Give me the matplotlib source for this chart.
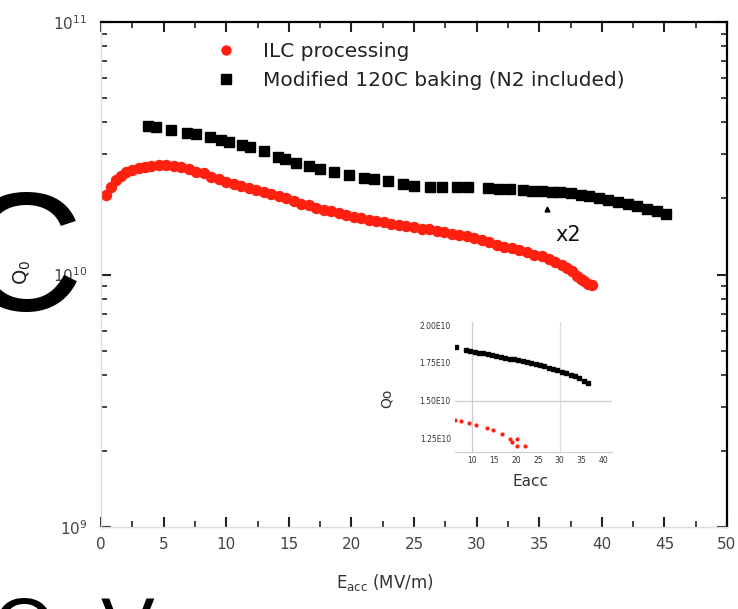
import matplotlib
matplotlib.use("Agg")
import matplotlib.pyplot as plt
from matplotlib.ticker import LogLocator, MultipleLocator, FixedLocator, NullFormatter

plt.rcParams['font.family'] = ['DejaVu Sans']

# ---------------- data ----------------
ilc_e = [0.4, 0.8, 1.2, 1.6, 2.0, 2.5, 3.0, 3.5, 4.0, 4.6, 5.2, 5.8, 6.4, 7.0, 7.6, 8.2, 8.8, 9.4,
         10.0, 10.6, 11.2, 11.8, 12.4, 13.0, 13.6, 14.2, 14.8, 15.4, 16.0, 16.6, 17.2, 17.8, 18.4,
         19.0, 19.6, 20.2, 20.8, 21.4, 22.0, 22.6, 23.2, 23.8, 24.4, 25.0, 25.6, 26.2, 26.8, 27.4,
         28.0, 28.6, 29.2, 29.8, 30.4, 31.0, 31.6, 32.2, 32.8, 33.4, 34.0, 34.6, 35.2, 35.8, 36.3,
         36.8, 37.2, 37.6, 38.0, 38.3, 38.6, 38.9, 39.2]
ilc_q = [2.07, 2.22, 2.36, 2.46, 2.54, 2.60, 2.64, 2.67, 2.69, 2.71, 2.71, 2.70, 2.66, 2.61, 2.55,
         2.52, 2.44, 2.39, 2.33, 2.29, 2.24, 2.21, 2.17, 2.12, 2.08, 2.04, 2.00, 1.96, 1.91, 1.88,
         1.84, 1.80, 1.78, 1.75, 1.72, 1.69, 1.67, 1.65, 1.63, 1.61, 1.59, 1.57, 1.55, 1.54, 1.52,
         1.51, 1.49, 1.47, 1.45, 1.43, 1.42, 1.39, 1.37, 1.34, 1.31, 1.29, 1.27, 1.25, 1.23, 1.20,
         1.18, 1.15, 1.12, 1.09, 1.06, 1.03, 0.99, 0.96, 0.94, 0.92, 0.91]  # x 1e10

mod_e = [3.77, 4.38, 5.6, 6.85, 7.6, 8.7, 9.6, 10.2, 11.3, 11.9, 13.0, 14.1, 14.7, 15.6, 16.6, 17.5,
         18.6, 19.8, 21.0, 21.8, 22.9, 24.1, 25.0, 26.3, 27.2, 28.4, 29.3, 30.9, 31.8, 32.7, 33.7,
         34.4, 35.2, 36.0, 36.7, 37.5, 38.3, 39.0, 39.8, 40.5, 41.3, 42.1, 42.8, 43.6, 44.4, 45.1]
mod_q = [3.86, 3.84, 3.72, 3.65, 3.61, 3.51, 3.42, 3.36, 3.26, 3.20, 3.07, 2.93, 2.87, 2.77, 2.68,
         2.61, 2.54, 2.47, 2.41, 2.38, 2.34, 2.28, 2.25, 2.23, 2.22, 2.22, 2.22, 2.20, 2.19, 2.18,
         2.17, 2.15, 2.14, 2.13, 2.12, 2.10, 2.07, 2.04, 2.01, 1.97, 1.93, 1.90, 1.86, 1.82, 1.78,
         1.73]  # x 1e10

series_labels = ["ILC processing", "Modified 120C baking (N2 included)"]
x_ticks = [0, 5, 10, 15, 20, 25, 30, 35, 40, 45, 50]

marker_e = [35.6]
marker_q = [1.82]
annot_text = "x2"

# inset data
ins_black_e = [6.2, 8.5, 9.5, 10.5, 11.5, 12.5, 13.5, 14.5, 15.5, 16.5, 17.5, 18.5, 19.5, 20.5, 21.5,
               22.5, 23.5, 24.5, 25.5, 26.5, 27.5, 28.5, 29.5, 30.5, 31.5, 32.5, 33.5, 34.5, 35.5, 36.5]
ins_black_q = [1.853, 1.832, 1.826, 1.822, 1.815, 1.812, 1.805, 1.800, 1.795, 1.790, 1.785, 1.778,
               1.772, 1.768, 1.762, 1.755, 1.748, 1.742, 1.735, 1.727, 1.718, 1.710, 1.700, 1.692,
               1.682, 1.672, 1.660, 1.648, 1.632, 1.615]
ins_red_e = [6.0, 7.4, 9.3, 10.9, 13.3, 14.7, 16.7, 18.6, 19.1, 20.2, 20.2, 22.1]
ins_red_q = [1.370, 1.363, 1.350, 1.336, 1.316, 1.303, 1.276, 1.243, 1.223, 1.243, 1.202, 1.202]
ins_xticks = [10, 15, 20, 25, 30, 35, 40]
ins_yticks = [1.25, 1.50, 1.75, 2.00]
ins_ylabels = ["1.25E10", "1.50E10", "1.75E10", "2.00E10"]

# ---------------- figure ----------------
W, H = 738, 609
fig = plt.figure(figsize=(W / 100, H / 100), dpi=100)

def px_axes(x0, y0, x1, y1):
    return [x0 / W, 1 - y1 / H, (x1 - x0) / W, (y1 - y0) / H]

ax = fig.add_axes(px_axes(101, 22, 727, 527))
red = '#ff2010'
ax.plot(ilc_e, [q * 1e10 for q in ilc_q], 'o', color=red, ms=7.2, mec=red, lw=0,
        label=series_labels[0])
ax.plot(mod_e, [q * 1e10 for q in mod_q], 's', color='black', ms=7.5, lw=0,
        label=series_labels[1])
ax.plot(marker_e, [q * 1e10 for q in marker_q], '^', color='black', ms=3.5)
ax.text(36.3, 1.44e10, annot_text, fontsize=15, va='center', ha='left', color='#111111')

ax.set_yscale('log')
ax.set_xlim(0, 50)
ax.set_ylim(1e9, 1e11)
ax.xaxis.set_major_locator(FixedLocator(x_ticks))
ax.xaxis.set_minor_locator(MultipleLocator(2.5))
ax.yaxis.set_major_locator(LogLocator(base=10, numticks=10))
ax.yaxis.set_minor_locator(LogLocator(base=10, subs=range(2, 10), numticks=20))
ax.yaxis.set_minor_formatter(NullFormatter())
ax.tick_params(which='both', direction='in', top=True, right=True, colors='#222222',
               labelcolor='#444444', labelsize=11)
ax.tick_params(which='major', length=7, width=1.5)
ax.tick_params(which='minor', length=4, width=1.2)
ax.tick_params(axis='x', pad=7)
ax.tick_params(axis='y', pad=10)
for s in ['left', 'bottom']:
    ax.spines[s].set_color('#dddddd')
    ax.spines[s].set_linewidth(1.0)
for s in ['top', 'right']:
    ax.spines[s].set_color('black')
    ax.spines[s].set_linewidth(1.6)

ax.set_xlabel(r'E$_{\mathregular{acc}}$ (MV/m)', fontsize=12, color='#333333')
ax.xaxis.set_label_coords((385 - 101) / 626, (527 - 572) / 505)
fig.text(22 / W, 1 - 272 / H, r'Q$_0$', rotation=90, fontsize=14, ha='center', va='center',
         color='#222222')

leg = ax.legend(loc='upper left', bbox_to_anchor=(188 / W, 1 - 24 / H),
                bbox_transform=fig.transFigure, frameon=False, fontsize=14.5,
                numpoints=1, labelspacing=0.5, handlelength=2.0, handletextpad=0.8,
                markerscale=0.9)
for t in leg.get_texts():
    t.set_color('#222222')

# ---------------- inset ----------------
iax = fig.add_axes(px_axes(455, 322, 612, 452))
iax.plot(ins_black_e, ins_black_q, 's', color='black', ms=2.6, lw=0)
iax.plot(ins_red_e, ins_red_q, 'o', color=red, ms=2.0, lw=0)
iax.set_xlim(6, 42)
iax.set_ylim(1.16, 2.02)
iax.axvline(10, color='#cccccc', lw=0.9, zorder=0)
iax.axvline(30, color='#dddddd', lw=0.9, zorder=0)
iax.axhline(1.5, color='#cccccc', lw=0.9, zorder=0)
for s in ['top', 'right', 'left']:
    iax.spines[s].set_visible(False)
iax.spines['bottom'].set_color('#cccccc')
iax.set_xticks(ins_xticks)
iax.set_yticks(ins_yticks)
iax.set_yticklabels(ins_ylabels)
iax.tick_params(length=0, labelsize=5.5, labelcolor='#333333', pad=3)
iax.patch.set_alpha(0)
fig.text(387 / W, 1 - 398 / H, 'Qo', rotation=90, fontsize=10, ha='center', va='center',
         color='#333333')
fig.text(530 / W, 1 - 482 / H, 'Eacc', fontsize=11, ha='center', va='center', color='#333333')

# ---------------- overlaid large letters ----------------
fig.text(22 / W, 1 - 310 / H, 'C', fontsize=122, family='Liberation Sans', ha='center',
         va='baseline', color='black')
fig.text(23 / W, 1 - 655 / H, 'O', fontsize=58, family='Liberation Sans', ha='center',
         va='baseline', color='black')
fig.text(128 / W, 1 - 655 / H, 'V', fontsize=58, family='Liberation Sans', ha='center',
         va='baseline', color='black')

fig.savefig('out.png', dpi=100)
